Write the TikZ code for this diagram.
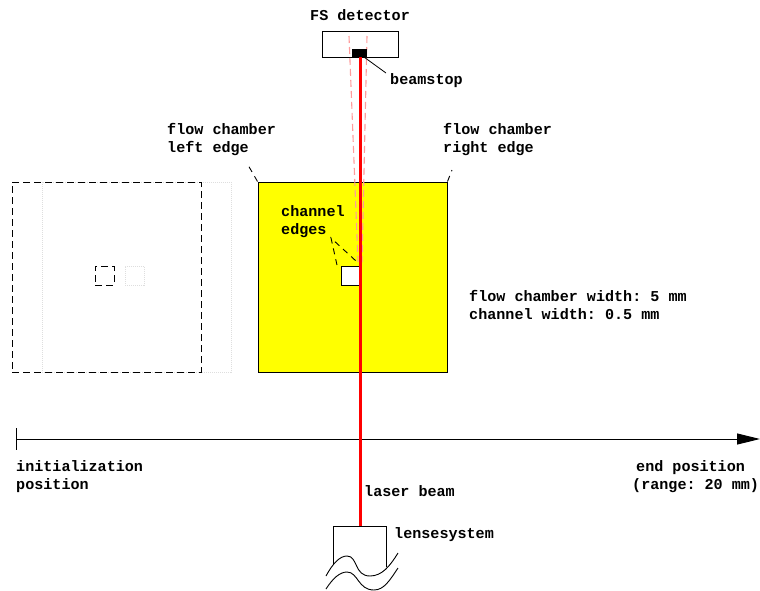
\documentclass[tikz,border=0pt]{standalone}
\usepackage{fontspec}
\setmainfont{Liberation Mono}
\usetikzlibrary{arrows.meta}
\definecolor{chamberyellow}{RGB}{255,255,0}
\definecolor{beamred}{RGB}{255,0,0}
\definecolor{beampink}{RGB}{255,155,155}
\definecolor{ghost}{RGB}{222,222,222}
\tikzset{
  x=1pt,y=-1pt,
  lbl/.style={inner sep=0pt,anchor=base west,align=left,font=\fontsize{15.1}{18}\selectfont\bfseries\frenchspacing},
  box/.style={draw=black,line width=1pt,inner sep=0pt},
  dash1/.style={draw=black,line width=.95pt,dash pattern=on 7pt off 4pt},
  dot1/.style={draw=ghost,line width=.8pt,dash pattern=on 1pt off 1pt},
  pink/.style={draw=beampink,line width=1.1pt,dash pattern=on 7pt off 4pt},
  beam/.style={draw=beamred,line width=3pt},
  lead/.style={draw=black,line width=.8pt},
  leaddash/.style={draw=black,line width=.9pt,dash pattern=on 6pt off 5pt},
}
\begin{document}
\begin{tikzpicture}
\useasboundingbox (0,0) rectangle (760,590);
% detector
\node[box,minimum width=76pt,minimum height=26pt] (detector) at (360,44) {};
% ghost chamber
\node[box,dot1,minimum width=189pt,minimum height=190pt] (ghostB) at (136.5,277) {};
\node[box,dot1,minimum width=19pt,minimum height=19pt] (ghostBch) at (134.5,275.5) {};
\node[box,dash1,minimum width=189pt,minimum height=190pt] (ghostA) at (106.5,277) {};
\node[box,dash1,minimum width=19pt,minimum height=19pt] (ghostAch) at (104.5,275.5) {};
% chamber
\node[box,fill=chamberyellow,minimum width=189pt,minimum height=190pt] (chamber) at (352.5,277) {};
\node[box,fill=white,minimum width=19pt,minimum height=19pt] (channel) at (350.5,275.5) {};
% pink beam edges
\coordinate (pl1) at (349,36); \coordinate (pl2) at (358,262);
\coordinate (pr1) at (367,36); \coordinate (pr2) at (362,262);
\draw[pink] (pl1) -- (pl2);
\draw[pink] (pr1) -- (pr2);
% axis
\coordinate (ax0) at (16,439); \coordinate (ax1) at (760,439);
\coordinate (tk0) at (16,428); \coordinate (tk1) at (16,450);
\draw[line width=1pt,-{Triangle[length=23pt,width=11pt]}] (ax0) -- (ax1);
\draw[line width=1pt] (tk0) -- (tk1);
% lens
\coordinate (ll) at (333,564); \coordinate (lt0) at (333,526); \coordinate (lt) at (360,526);
\coordinate (lt1) at (386,526); \coordinate (lr) at (386,567);
\draw[box] (ll) -- (lt0) -- (lt1) -- (lr);
\draw[line width=.9pt] (326,576) .. controls (333,563) and (340,556) .. (347,556) .. controls (358,556) and (354,576) .. (370,576) .. controls (382,576) and (390,566) .. (398,553);
\draw[line width=.9pt] (326,589) .. controls (333,578) and (340,572) .. (347,572) .. controls (358,572) and (358,590) .. (374,590) .. controls (384,590) and (390,580) .. (398,568);
% beam
\coordinate (bt) at (360,57);
\draw[beam] (bt) -- (lt);
\node[fill=black,inner sep=0pt,minimum width=15pt,minimum height=8pt] (beamstop) at (359.5,53) {};
% leaders
\coordinate (bsl) at (386,73);
\coordinate (cl) at (248,165); \coordinate (cr) at (452,170);
\coordinate (ce) at (331,238); \coordinate (ce1) at (337,265); \coordinate (ce2) at (356,261);
\draw[lead] (beamstop.south east) ++(-3,0) -- (bsl);
\draw[leaddash] (chamber.north west) -- (cl);
\draw[leaddash] (chamber.north east) -- (cr);
\draw[leaddash] (ce1) -- (ce) -- (ce2);
% labels
\node[lbl] (t1) at (310,20) {FS detector};
\node[lbl] (t2) at (390,84) {beamstop};
\node[lbl] (t3) at (167,152) {flow chamber\\left edge};
\node[lbl] (t4) at (443,152) {flow chamber\\right edge};
\node[lbl] (t5) at (281,234) {channel\\edges};
\node[lbl] (t6) at (469,319) {flow chamber width: 5 mm\\channel width: 0.5 mm};
\node[lbl] (t7) at (16,489) {initialization\\position};
\node[lbl] (t8) at (636,489) {end position\\\kern-4pt(range: 20 mm)};
\node[lbl] (t9) at (364,496) {laser beam};
\node[lbl] (t10) at (394,538) {lensesystem};
\end{tikzpicture}
\end{document}
